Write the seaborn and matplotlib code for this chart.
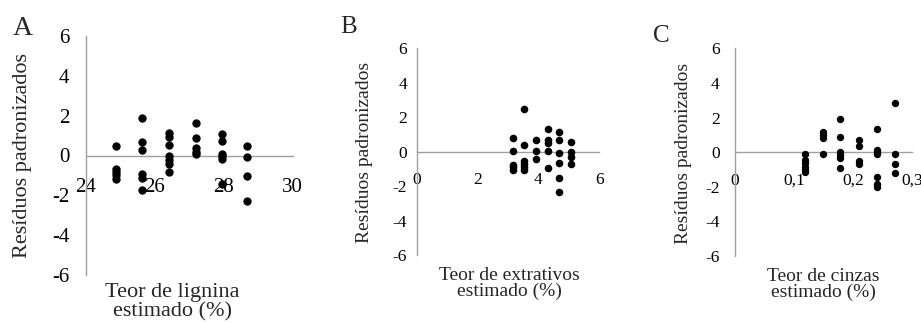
import matplotlib
matplotlib.use("Agg")
import matplotlib.pyplot as plt
import seaborn as sns
import pandas as pd

# Estimated lignin content (%) and standardized residuals
lignina = [24.86, 24.86, 24.86, 24.86, 24.86,
           25.64, 25.64, 25.64, 25.64, 25.64, 25.64,
           26.40, 26.40, 26.40, 26.40, 26.40, 26.40, 26.40,
           27.18, 27.18, 27.18, 27.18, 27.18,
           27.95, 27.95, 27.95, 27.95, 27.95, 27.95,
           28.67, 28.67, 28.67, 28.67]
res_lignina = [0.50, -0.68, -0.85, -1.00, -1.20,
               1.90, 0.68, 0.30, -0.95, -1.12, -1.72,
               1.15, 0.95, 0.52, -0.05, -0.25, -0.42, -0.82,
               1.62, 0.87, 0.38, 0.20, 0.09,
               1.10, 0.72, 0.10, -0.05, -0.18, -1.42,
               0.49, -0.10, -1.02, -2.28]

# Estimated extractives content (%) and standardized residuals
extrativos = [3.15, 3.15, 3.15, 3.15, 3.15,
              3.53, 3.53, 3.53, 3.53, 3.53, 3.53,
              3.91, 3.91, 3.91,
              4.32, 4.32, 4.32, 4.32, 4.32,
              4.69, 4.69, 4.69, 4.69, 4.69, 4.69,
              5.08, 5.08, 5.08, 5.08]
res_extrativos = [0.80, 0.06, -0.78, -0.92, -1.08,
                  2.48, 0.39, -0.55, -0.72, -0.91, -1.08,
                  0.68, 0.06, -0.43,
                  1.32, 0.68, 0.52, 0.02, -0.97,
                  1.14, 0.66, -0.10, -0.68, -1.55, -2.36,
                  0.54, -0.04, -0.29, -0.72]

# Estimated ash content (%) and standardized residuals
cinzas = [0.119, 0.119, 0.119, 0.119, 0.119, 0.119,
          0.149, 0.149, 0.149, 0.149,
          0.179, 0.179, 0.179, 0.179, 0.179, 0.179,
          0.211, 0.211, 0.211, 0.211,
          0.241, 0.241, 0.241, 0.241, 0.241, 0.241, 0.241,
          0.271, 0.271, 0.271, 0.271]
res_cinzas = [-0.08, -0.45, -0.65, -0.88, -1.05, -1.15,
              1.14, 1.00, 0.83, -0.09,
              1.89, 0.87, 0.00, -0.17, -0.36, -0.90,
              0.72, 0.33, -0.50, -0.67,
              1.35, 0.15, 0.00, -0.13, -1.44, -1.83, -2.02,
              2.86, -0.13, -0.67, -1.21]

y_ticks = [-6, -4, -2, 0, 2, 4, 6]
x_ticks_a = [24, 26, 28, 30]
x_ticks_b = [0, 2, 4, 6]
x_ticks_c = [0, 0.1, 0.2, 0.3]
x_ticklabels_c = ["0", "0,1", "0,2", "0,3"]

sns.set_style("white")
plt.rcParams["font.family"] = ["Liberation Serif", "DejaVu Serif"]
plt.rcParams["axes.unicode_minus"] = False

W, H = 921, 323
fig = plt.figure(figsize=(W / 100, H / 100), dpi=100)


def px_axes(x0, x1, y0, y1):
    return fig.add_axes([x0 / W, 1 - y1 / H, (x1 - x0) / W, (y1 - y0) / H])


AXIS_GRAY = "#a0a0a0"


def style(ax, xlim, xticks, xticklabels, fs, xpad, ypad):
    ax.set_xlim(*xlim)
    ax.set_ylim(-6, 6)
    ax.set_yticks(y_ticks)
    ax.set_yticklabels([str(t) for t in y_ticks])
    ax.set_xticks(xticks)
    ax.set_xticklabels(xticklabels)
    for s in ("top", "right"):
        ax.spines[s].set_visible(False)
    ax.spines["bottom"].set_position(("data", 0))
    for s in ("left", "bottom"):
        ax.spines[s].set_color(AXIS_GRAY)
        ax.spines[s].set_linewidth(1.0)
    ax.tick_params(axis="both", direction="out", length=4, width=1.0,
                   color=AXIS_GRAY, labelsize=fs, labelcolor="black")
    ax.tick_params(axis="x", pad=xpad)
    ax.tick_params(axis="y", pad=ypad)
    ax.set_xlabel("")
    ax.set_ylabel("")
    ax.patch.set_alpha(0)


panels = [
    dict(x=lignina, y=res_lignina, box=(86, 292.7, 36, 275), xlim=(24, 30),
         xt=x_ticks_a, xtl=[str(t) for t in x_ticks_a], fs=15, xpad=12, ypad=8,
         s=36, letter="A", lpos=(13, 35), lfs=20,
         ylab_x=23, ylab_y=156, lab_fs=16,
         xlab=("Teor de lignina", "estimado (%)"), xlab_x=172, xlab_y=(297, 316)),
    dict(x=extrativos, y=res_extrativos, box=(416.7, 599.3, 48.3, 255), xlim=(0, 6),
         xt=x_ticks_b, xtl=[str(t) for t in x_ticks_b], fs=12.5, xpad=11, ypad=3,
         s=30, letter="B", lpos=(340, 33), lfs=18,
         ylab_x=364, ylab_y=152.5, lab_fs=14,
         xlab=("Teor de extrativos", "estimado (%)"), xlab_x=509, xlab_y=(280, 296)),
    dict(x=cinzas, y=res_cinzas, box=(735, 911.7, 48.3, 256), xlim=(0, 0.3),
         xt=x_ticks_c, xtl=x_ticklabels_c, fs=12.5, xpad=11, ypad=7,
         s=28, letter="C", lpos=(653, 42), lfs=18,
         ylab_x=683, ylab_y=153, lab_fs=14,
         xlab=("Teor de cinzas", "estimado (%)"), xlab_x=823, xlab_y=(281, 297)),
]

for p in panels:
    ax = px_axes(*p["box"])
    df = pd.DataFrame({"x": p["x"], "y": p["y"]})
    sns.scatterplot(data=df, x="x", y="y", ax=ax, color="black", s=p["s"],
                    edgecolor="black", linewidth=0, zorder=3, clip_on=False)
    style(ax, p["xlim"], p["xt"], p["xtl"], p["fs"], p["xpad"], p["ypad"])
    fig.text(p["lpos"][0] / W, 1 - p["lpos"][1] / H, p["letter"],
             fontsize=p["lfs"], ha="left", va="baseline")
    fig.text(p["ylab_x"] / W, 1 - p["ylab_y"] / H, "Resíduos padronizados",
             fontsize=p["lab_fs"], rotation=90, ha="center", va="center")
    for line, yb in zip(p["xlab"], p["xlab_y"]):
        fig.text(p["xlab_x"] / W, 1 - yb / H, line, fontsize=p["lab_fs"],
                 ha="center", va="baseline")

fig.savefig("out.png", dpi=100)
